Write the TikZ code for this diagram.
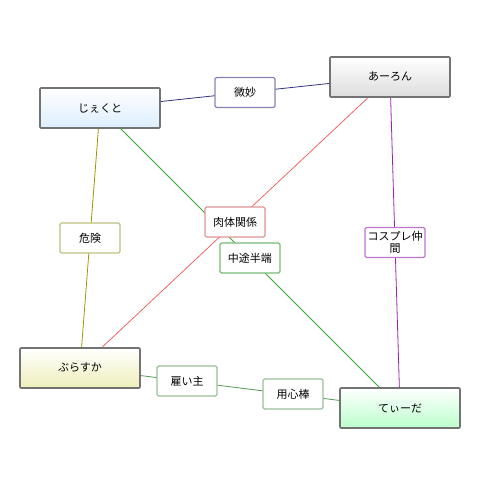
\documentclass[tikz,border=0pt]{standalone}
\usepackage{fontspec}
\setmainfont{Noto Sans CJK JP}
\definecolor{cjb}{HTML}{DDEEFF}
\definecolor{cab}{HTML}{DDDDDD}
\definecolor{cbb}{HTML}{EEEEBB}
\definecolor{ctb}{HTML}{BBFFCC}
\definecolor{e1}{HTML}{333380}
\definecolor{l1}{HTML}{8585B5}
\definecolor{e2}{HTML}{999900}
\definecolor{l2}{HTML}{C0C080}
\definecolor{e3}{HTML}{EE6666}
\definecolor{l3}{HTML}{E09595}
\definecolor{e4}{HTML}{33AA33}
\definecolor{l4}{HTML}{77BB77}
\definecolor{e5}{HTML}{9922AA}
\definecolor{l5}{HTML}{BB77CC}
\definecolor{e6}{HTML}{559955}
\definecolor{l6}{HTML}{99C099}
\begin{document}
\begin{tikzpicture}[x=1pt,y=-1pt,
  mainbox/.style={draw=black!55, line width=1.6pt, rounded corners=1pt, minimum width=120pt, minimum height=40pt, inner sep=0pt, font=\fontsize{11}{13}\selectfont, top color=white},
  lab/.style={draw, fill=white, line width=1.2pt, rounded corners=1.5pt, minimum width=60pt, minimum height=30pt, inner sep=1pt, font=\fontsize{11}{12}\selectfont, align=center},
  edg/.style={line width=0.8pt}]
\useasboundingbox (0,0) rectangle (480,478);
% main nodes
\node[mainbox, bottom color=cjb] (j) at (100,108) {じぇくと};
\node[mainbox, bottom color=cab] (a) at (390,77) {あーろん};
\node[mainbox, bottom color=cbb] (b) at (80,368) {ぶらすか};
\node[mainbox, bottom color=ctb] (t) at (400,408) {てぃーだ};
% edges
\draw[edg, draw=e1] (j) -- coordinate[pos=0.5] (m1) (a);
\draw[edg, draw=e2] (j) -- coordinate[pos=0.5] (m2) (b);
\draw[edg, draw=e3] (a) -- coordinate[pos=0.5] (m3) (b);
\draw[edg, draw=e4] (j) -- coordinate[pos=0.5] (m4) (t);
\draw[edg, draw=e5] (a) -- coordinate[pos=0.5] (m5) (t);
\draw[edg, draw=e6] (b) -- coordinate[pos=0.333] (m6) coordinate[pos=0.667] (m7) (t);
% labels
\node[lab, draw=l1] (bimyo) at (m1) {微妙};
\node[lab, draw=l2] (kiken) at (m2) {危険};
\node[lab, draw=l3] (nikutai) at (235,222) {肉体関係};
\node[lab, draw=l4] (chuto) at (m4) {中途半端};
\node[lab, draw=l5] (cos) at (m5) {コスプレ仲\\間};
\node[lab, draw=l6] (yatoi) at (187,381) {雇い主};
\node[lab, draw=l6] (yojin) at (293,394) {用心棒};
\end{tikzpicture}
\end{document}
